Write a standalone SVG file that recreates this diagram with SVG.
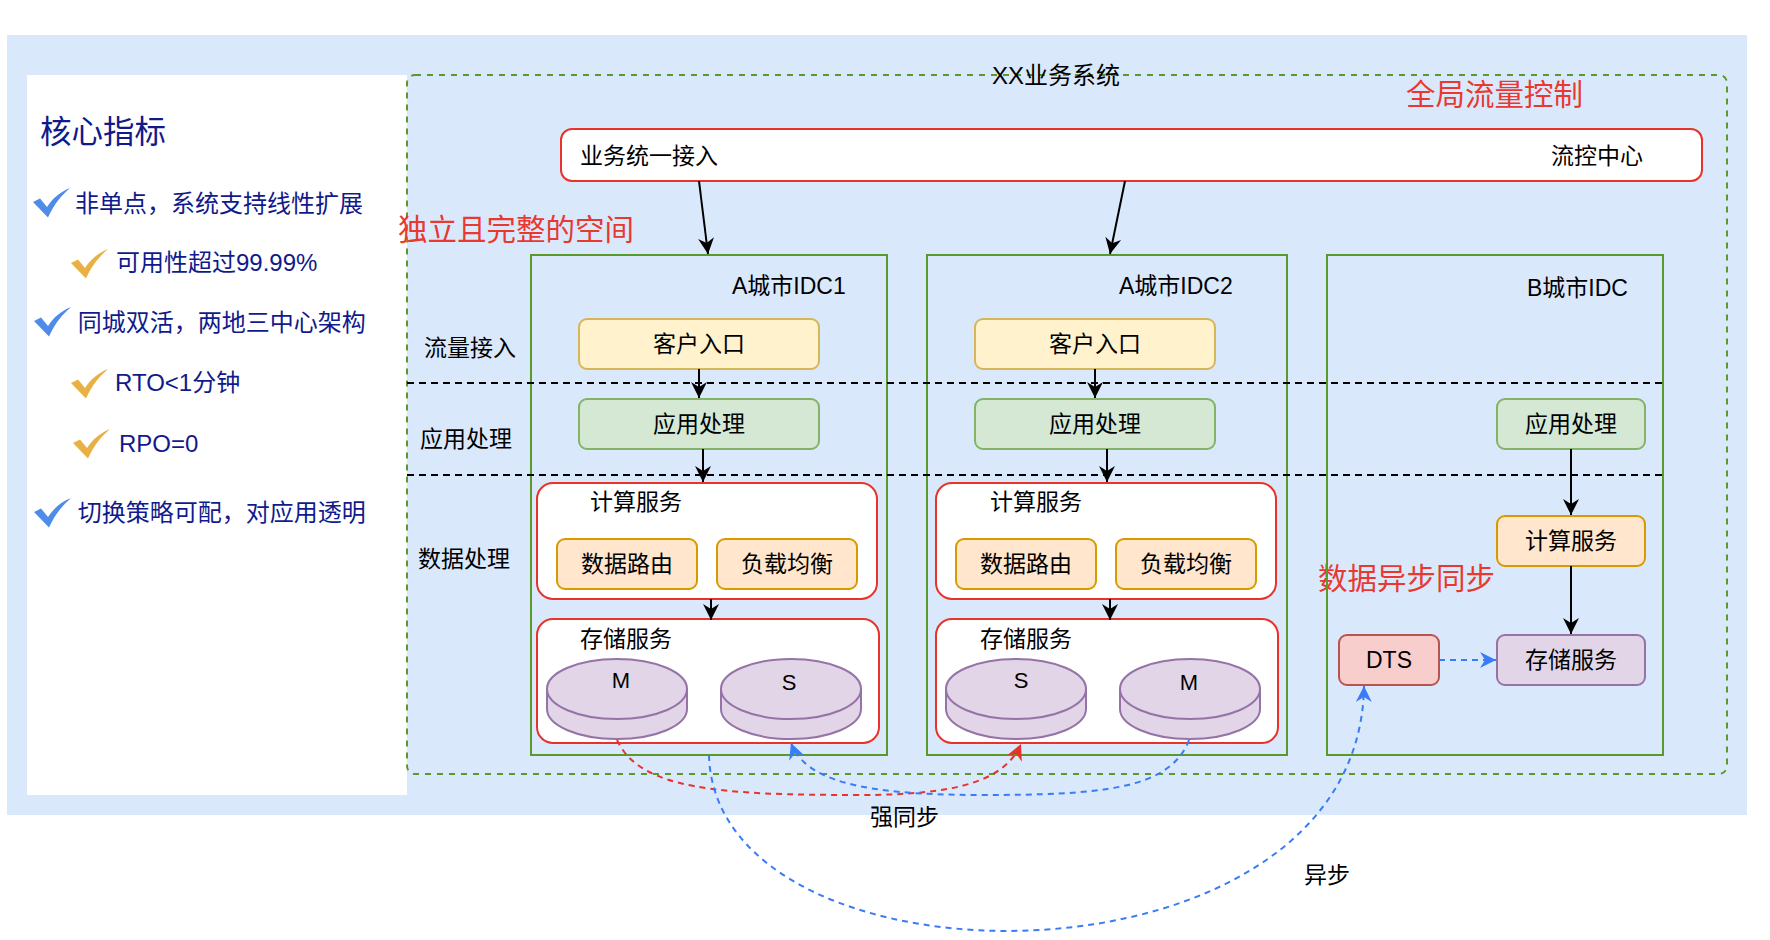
<svg xmlns="http://www.w3.org/2000/svg" width="1770" height="940" viewBox="0 0 1770 940">
<style>
text{font-family:'Liberation Sans','Noto Sans CJK SC',sans-serif;fill:#000}
.t23{font-size:23px}
.mid{text-anchor:middle}
.red{fill:#e8382f;font-size:29.5px}
.navy{fill:#101a8c;font-size:24px}
.db{font-size:22px;text-anchor:middle}
.idc{fill:none;stroke:#5a9a2a;stroke-width:2}
.cont{fill:#fff;stroke:#e8332a;stroke-width:2}
.yel{fill:#fff2cc;stroke:#d6b656;stroke-width:2}
.grn{fill:#d5e8d4;stroke:#82b366;stroke-width:2}
.org{fill:#ffe6cc;stroke:#d79b00;stroke-width:2}
.pur{fill:#e1d5e7;stroke:#9673a6;stroke-width:2}
.dts{fill:#f8cecc;stroke:#b85450;stroke-width:2}
.lane{stroke:#000;stroke-width:2;stroke-dasharray:7 5;fill:none}
.arr{stroke:#000;stroke-width:2;fill:none;marker-end:url(#ak)}
.bdash{stroke:#3a7cf5;stroke-width:2;stroke-dasharray:6 5;fill:none;marker-end:url(#ab)}
.rdash{stroke:#e8332a;stroke-width:2;stroke-dasharray:6 5;fill:none;marker-end:url(#ar)}
</style>
<defs>
<marker id="ak" viewBox="-18 -10 20 20" refX="0" refY="0" markerWidth="20" markerHeight="20" markerUnits="userSpaceOnUse" orient="auto"><path d="M0,0 L-16,-8 L-11,0 L-16,8 Z" fill="#000"/></marker>
<marker id="ab" viewBox="-18 -10 20 20" refX="0" refY="0" markerWidth="20" markerHeight="20" markerUnits="userSpaceOnUse" orient="auto"><path d="M0,0 L-16,-8 L-11,0 L-16,8 Z" fill="#3a7cf5"/></marker>
<marker id="ar" viewBox="-18 -10 20 20" refX="0" refY="0" markerWidth="20" markerHeight="20" markerUnits="userSpaceOnUse" orient="auto"><path d="M0,0 L-16,-8 L-11,0 L-16,8 Z" fill="#e8332a"/></marker>
<path id="chk" d="M0,14 L7,10.5 L14,19 C20,10 27,4 37,0 C29,7 21,16 15,29.5 Z"/>
</defs>

<rect x="7" y="35" width="1740" height="780" fill="#dae8fc"/>
<g id="panel">
<rect x="27" y="75" width="380" height="720" fill="#fff"/>
<text x="40" y="143" style="font-size:31.5px;fill:#101a8c">核心指标</text>
<use href="#chk" x="33" y="188" fill="#4f8be8"/>
<text class="navy" x="75" y="212">非单点，系统支持线性扩展</text>
<use href="#chk" x="71" y="249" fill="#e9b143"/>
<text class="navy" x="116" y="271">可用性超过99.99%</text>
<use href="#chk" x="34" y="307" fill="#4f8be8"/>
<text class="navy" x="77.7" y="331">同城双活，两地三中心架构</text>
<use href="#chk" x="71" y="369" fill="#e9b143"/>
<text class="navy" x="115" y="391">RTO&lt;1分钟</text>
<use href="#chk" x="73" y="429" fill="#e9b143"/>
<text class="navy" x="119" y="451.5">RPO=0</text>
<use href="#chk" x="34" y="498" fill="#4f8be8"/>
<text class="navy" x="77.7" y="521">切换策略可配，对应用透明</text>
</g>

<g id="system">
<rect x="407" y="75" width="1320" height="699" rx="8" fill="none" stroke="#5a9a2a" stroke-width="2" stroke-dasharray="6 6"/>
<text x="992" y="84" style="font-size:24px">XX业务系统</text>
<text class="red" x="1406" y="105">全局流量控制</text>
<text class="red" x="398" y="240">独立且完整的空间</text>
<text class="red" x="1318" y="589">数据异步同步</text>
<text class="t23" x="424" y="356">流量接入</text>
<text class="t23" x="420" y="447">应用处理</text>
<text class="t23" x="418" y="567">数据处理</text>
</g>

<g id="gateway">
<rect x="561" y="129" width="1141" height="52" rx="11" fill="#fff" stroke="#e8332a" stroke-width="2"/>
<text class="t23" x="580" y="164">业务统一接入</text>
<text class="t23" x="1551" y="164">流控中心</text>
</g>

<g id="idc1">
<rect class="idc" x="531" y="255" width="356" height="500"/>
<text class="t23" x="732" y="294">A城市IDC1</text>
</g>
<g id="idc2">
<rect class="idc" x="927" y="255" width="360" height="500"/>
<text class="t23" x="1119" y="294">A城市IDC2</text>
</g>
<g id="idcb">
<rect class="idc" x="1327" y="255" width="336" height="500"/>
<text class="t23" x="1527" y="296">B城市IDC</text>
</g>

<g id="lanes">
<line class="lane" x1="407" y1="383" x2="1663" y2="383"/>
<line class="lane" x1="407" y1="475" x2="1663" y2="475"/>
</g>

<g id="idc1-entry"><rect class="yel" x="579" y="319" width="240" height="50" rx="8"/><text class="t23 mid" x="699" y="352">客户入口</text></g>
<g id="idc1-app"><rect class="grn" x="579" y="399" width="240" height="50" rx="8"/><text class="t23 mid" x="699" y="432">应用处理</text></g>
<g id="idc1-compute"><rect class="cont" x="537" y="483" width="340" height="116" rx="16"/><text class="t23" x="590" y="510">计算服务</text></g>
<g id="idc1-route"><rect class="org" x="557" y="539" width="140" height="50" rx="8"/><text class="t23 mid" x="627" y="572">数据路由</text></g>
<g id="idc1-lb"><rect class="org" x="717" y="539" width="140" height="50" rx="8"/><text class="t23 mid" x="787" y="572">负载均衡</text></g>
<g id="idc1-storage"><rect class="cont" x="537" y="619" width="342" height="124" rx="16"/><text class="t23" x="580" y="647">存储服务</text></g>
<g id="idc1-m"><path class="pur" d="M547,689 L547,709 A70,30 0 0 0 687,709 L687,689 Z"/><ellipse class="pur" cx="617" cy="689" rx="70" ry="30"/><text class="db" x="621" y="688">M</text></g>
<g id="idc1-s"><path class="pur" d="M721,689 L721,709 A70,30 0 0 0 861,709 L861,689 Z"/><ellipse class="pur" cx="791" cy="689" rx="70" ry="30"/><text class="db" x="789" y="690">S</text></g>

<g id="idc2-entry"><rect class="yel" x="975" y="319" width="240" height="50" rx="8"/><text class="t23 mid" x="1095" y="352">客户入口</text></g>
<g id="idc2-app"><rect class="grn" x="975" y="399" width="240" height="50" rx="8"/><text class="t23 mid" x="1095" y="432">应用处理</text></g>
<g id="idc2-compute"><rect class="cont" x="936" y="483" width="340" height="116" rx="16"/><text class="t23" x="990" y="510">计算服务</text></g>
<g id="idc2-route"><rect class="org" x="956" y="539" width="140" height="50" rx="8"/><text class="t23 mid" x="1026" y="572">数据路由</text></g>
<g id="idc2-lb"><rect class="org" x="1116" y="539" width="140" height="50" rx="8"/><text class="t23 mid" x="1186" y="572">负载均衡</text></g>
<g id="idc2-storage"><rect class="cont" x="936" y="619" width="342" height="124" rx="16"/><text class="t23" x="980" y="647">存储服务</text></g>
<g id="idc2-s"><path class="pur" d="M946,689 L946,709 A70,30 0 0 0 1086,709 L1086,689 Z"/><ellipse class="pur" cx="1016" cy="689" rx="70" ry="30"/><text class="db" x="1021" y="688">S</text></g>
<g id="idc2-m"><path class="pur" d="M1120,689 L1120,709 A70,30 0 0 0 1260,709 L1260,689 Z"/><ellipse class="pur" cx="1190" cy="689" rx="70" ry="30"/><text class="db" x="1189" y="690">M</text></g>

<g id="b-app"><rect class="grn" x="1497" y="399" width="148" height="50" rx="8"/><text class="t23 mid" x="1571" y="432">应用处理</text></g>
<g id="b-compute"><rect class="org" x="1497" y="516" width="148" height="50" rx="8"/><text class="t23 mid" x="1571" y="549">计算服务</text></g>
<g id="b-storage"><rect class="pur" x="1497" y="635" width="148" height="50" rx="8"/><text class="t23 mid" x="1571" y="668">存储服务</text></g>
<g id="b-dts"><rect class="dts" x="1339" y="635" width="100" height="50" rx="8"/><text class="t23 mid" x="1389" y="668">DTS</text></g>

<g id="connectors">
<line class="arr" x1="699" y1="181" x2="708" y2="254"/>
<line class="arr" x1="1125" y1="181" x2="1110" y2="254"/>
<line class="arr" x1="699" y1="369" x2="699" y2="398"/>
<line class="arr" x1="703" y1="449" x2="703" y2="482"/>
<line class="arr" x1="711" y1="599" x2="711" y2="620"/>
<line class="arr" x1="1095" y1="369" x2="1095" y2="398"/>
<line class="arr" x1="1107" y1="449" x2="1107" y2="482"/>
<line class="arr" x1="1110" y1="599" x2="1110" y2="620"/>
<line class="arr" x1="1571" y1="449" x2="1571" y2="515"/>
<line class="arr" x1="1571" y1="566" x2="1571" y2="634"/>
<path class="rdash" d="M617,740 C640,790 720,795 860,795 C960,795 1005,780 1021,744"/>
<path class="bdash" d="M1189,740 C1170,790 1100,795 980,795 C860,795 805,780 791,743"/>
<path class="bdash" d="M709,755 C715,1000 1360,1000 1364,686"/>
<line class="bdash" x1="1439" y1="660" x2="1496" y2="660"/>
<text class="t23" x="870" y="825">强同步</text>
<text class="t23" x="1304" y="883">异步</text>
</g>
</svg>
